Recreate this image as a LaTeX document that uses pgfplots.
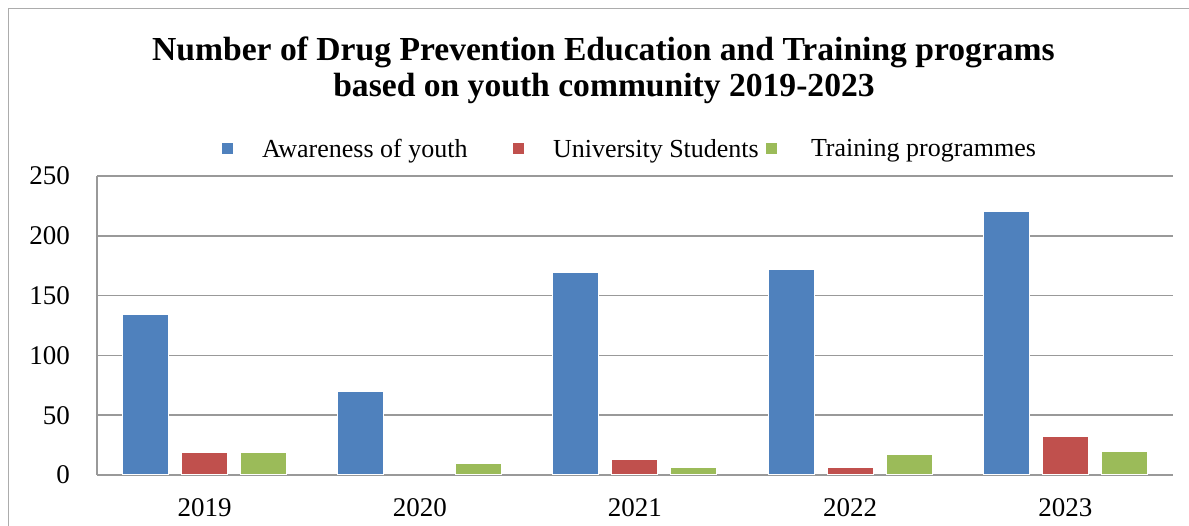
\documentclass[border=0pt]{standalone}
\usepackage{pgfplots}
\pgfplotsset{compat=1.18}
\usepackage{fontspec}
\setmainfont{Liberation Serif}
\definecolor{cblue}{HTML}{4F81BD}
\definecolor{cred}{HTML}{C0504D}
\definecolor{cgreen}{HTML}{9BBB59}
\definecolor{gridgray}{HTML}{999999}
\begin{document}
\begin{tikzpicture}[x=1pt,y=1pt]
\useasboundingbox (0,0) rectangle (1189,526);
\fill[white] (0,0) rectangle (1189,526);
\draw[gray!65, line width=1.5pt] (8.5,-20) -- (8.5,517.5) -- (1210,517.5);
\node[anchor=base, inner sep=0pt, font=\fontsize{33.6}{36}\selectfont\bfseries] at (603.5,465) {Number of Drug Prevention Education and Training programs};
\node[anchor=base, inner sep=0pt, font=\fontsize{33.6}{36}\selectfont\bfseries] at (604,429) {based on youth community 2019-2023};
\begin{axis}[
  at={(97pt,51pt)}, anchor=south west,
  scale only axis, width=1076pt, height=299pt,
  xmin=-0.5, xmax=4.5, ymin=0, ymax=250,
  ytick={0,50,100,150,200,250},
  xtick={0,1,2,3,4},
  xticklabels={2019,2020,2021,2022,2023},
  ybar=13pt, bar width=46pt,
  axis x line*=bottom, axis y line*=left,
  major tick length=0pt,
  ymajorgrids,
  grid style={gridgray, line width=1.7pt},
  axis line style={gridgray, line width=1.7pt},
  tick label style={font=\fontsize{27}{30}\selectfont},
  /pgf/number format/assume math mode=true,
  yticklabel style={inner sep=0pt, xshift=-27pt},
  xticklabel style={inner sep=0pt, anchor=north, yshift=-23pt},
  legend columns=-1,
  legend image code/.code={\path[#1, draw=none] (0pt,-5.5pt) rectangle (11pt,5.5pt);},
  legend style={at={(0.116,1)}, anchor=west, yshift=27pt, draw=none, fill=none,
    inner sep=0pt, nodes={inner sep=0pt}, font=\fontsize{26}{30}\selectfont,
    /tikz/every odd column/.append style={column sep=29pt}},
]
\addplot[fill=cblue, draw=white, line width=1pt] coordinates {(0,134) (1,70) (2,169) (3,172) (4,220)};
\addplot[fill=cred, draw=white, line width=1pt] coordinates {(0,19) (2,13) (3,6) (4,32)};
\addplot[fill=cgreen, draw=white, line width=1pt] coordinates {(0,19) (1,10) (2,6) (3,17) (4,20)};
\legend{\makebox[251pt][l]{Awareness of youth}, \makebox[213pt][l]{University Students}, \hspace{5pt}Training programmes}
\end{axis}
\end{tikzpicture}
\end{document}
